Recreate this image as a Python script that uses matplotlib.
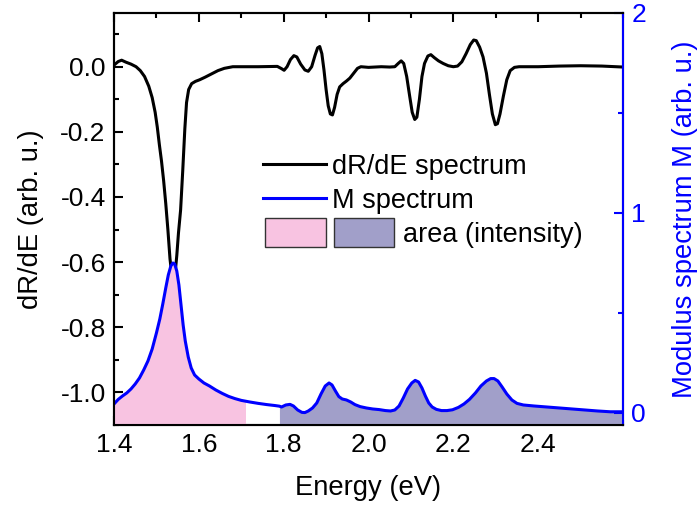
import matplotlib
matplotlib.use("Agg")
import matplotlib.pyplot as plt
from matplotlib.lines import Line2D
from matplotlib.patches import Rectangle
from matplotlib.ticker import MultipleLocator
import numpy as np

plt.rcParams["font.family"] = ["Liberation Sans", "DejaVu Sans"]

# ---- dR/dE spectrum ----
energy_r = [1.400, 1.410, 1.418, 1.428, 1.440, 1.452, 1.462, 1.472, 1.482, 1.490,
            1.497, 1.502, 1.507, 1.512, 1.517, 1.522, 1.527, 1.532, 1.536, 1.540,
            1.544, 1.548, 1.552, 1.557, 1.562, 1.567, 1.571, 1.576, 1.583, 1.592,
            1.602, 1.615, 1.630, 1.645, 1.660, 1.680, 1.700, 1.740, 1.785, 1.795,
            1.801, 1.808, 1.816, 1.824, 1.831, 1.840, 1.850, 1.858, 1.866, 1.874,
            1.880, 1.885, 1.890, 1.895, 1.900, 1.905, 1.910, 1.915, 1.920, 1.926,
            1.932, 1.940, 1.948, 1.956, 1.965, 1.974, 1.982, 2.000, 2.030, 2.050,
            2.062, 2.070, 2.077, 2.083, 2.090, 2.097, 2.103, 2.109, 2.114, 2.120,
            2.126, 2.132, 2.140, 2.147, 2.155, 2.165, 2.176, 2.188, 2.200, 2.210,
            2.220, 2.230, 2.240, 2.248, 2.254, 2.262, 2.270, 2.278, 2.285, 2.292,
            2.299, 2.304, 2.310, 2.318, 2.326, 2.334, 2.344, 2.355, 2.400, 2.450,
            2.500, 2.550, 2.600]
dR_dE = [0.005, 0.016, 0.020, 0.014, 0.008, 0.000, -0.012, -0.030, -0.060, -0.095,
         -0.140, -0.185, -0.240, -0.290, -0.350, -0.420, -0.500, -0.590, -0.635, -0.650,
         -0.635, -0.580, -0.510, -0.440, -0.320, -0.190, -0.110, -0.070, -0.052, -0.045,
         -0.040, -0.032, -0.022, -0.012, -0.005, 0.000, 0.000, 0.000, 0.001, -0.006,
         -0.011, 0.000, 0.022, 0.034, 0.030, 0.008, -0.010, -0.014, 0.000, 0.035,
         0.058, 0.062, 0.040, -0.010, -0.070, -0.120, -0.145, -0.148, -0.125, -0.085,
         -0.062, -0.052, -0.044, -0.035, -0.020, -0.005, 0.000, -0.002, 0.000, -0.001,
         0.000, 0.010, 0.018, 0.010, -0.030, -0.090, -0.140, -0.162, -0.155, -0.100,
         -0.030, 0.010, 0.033, 0.037, 0.028, 0.018, 0.010, 0.003, 0.000, 0.002,
         0.015, 0.040, 0.068, 0.082, 0.080, 0.060, 0.030, -0.020, -0.085, -0.145,
         -0.178, -0.175, -0.145, -0.090, -0.040, -0.012, -0.002, 0.000, 0.000, 0.002,
         0.003, 0.002, -0.001]

# ---- modulus spectrum M ----
energy_m = [1.400, 1.410, 1.420, 1.430, 1.440, 1.450, 1.460, 1.470, 1.480, 1.490,
            1.500, 1.508, 1.515, 1.522, 1.528, 1.534, 1.539, 1.543, 1.548, 1.553,
            1.558, 1.563, 1.568, 1.575, 1.582, 1.590, 1.600, 1.612, 1.625, 1.640,
            1.655, 1.670, 1.685, 1.700, 1.710, 1.720, 1.740, 1.760, 1.780, 1.790,
            1.795, 1.805, 1.815, 1.823, 1.833, 1.843, 1.850, 1.858, 1.868, 1.878,
            1.888, 1.898, 1.907, 1.914, 1.922, 1.930, 1.938, 1.948, 1.958, 1.968,
            1.980, 1.995, 2.010, 2.025, 2.040, 2.052, 2.062, 2.072, 2.082, 2.092,
            2.102, 2.110, 2.118, 2.126, 2.134, 2.142, 2.150, 2.160, 2.172, 2.185,
            2.198, 2.212, 2.225, 2.238, 2.252, 2.265, 2.278, 2.288, 2.296, 2.305,
            2.315, 2.326, 2.338, 2.350, 2.365, 2.390, 2.420, 2.450, 2.480, 2.510,
            2.540, 2.570, 2.600]
modulus = [0.045, 0.068, 0.085, 0.100, 0.120, 0.145, 0.175, 0.215, 0.260, 0.320,
           0.400, 0.470, 0.545, 0.625, 0.690, 0.735, 0.750, 0.745, 0.710, 0.640,
           0.540, 0.440, 0.360, 0.280, 0.225, 0.190, 0.170, 0.150, 0.135, 0.115,
           0.098, 0.083, 0.072, 0.063, 0.059, 0.055, 0.048, 0.042, 0.037, 0.034,
           0.030, 0.040, 0.043, 0.035, 0.015, 0.003, 0.002, 0.010, 0.025, 0.050,
           0.095, 0.135, 0.150, 0.140, 0.110, 0.082, 0.070, 0.065, 0.055, 0.042,
           0.032, 0.025, 0.020, 0.017, 0.012, 0.010, 0.015, 0.035, 0.075, 0.120,
           0.150, 0.163, 0.155, 0.125, 0.085, 0.050, 0.030, 0.018, 0.012, 0.012,
           0.016, 0.028, 0.045, 0.068, 0.100, 0.135, 0.160, 0.172, 0.172, 0.160,
           0.130, 0.095, 0.065, 0.048, 0.040, 0.035, 0.030, 0.025, 0.020, 0.015,
           0.010, 0.006, 0.006]

# integration windows for the shaded areas
pink_range = (1.40, 1.71)
purple_range = (1.79, 2.60)

BLUE = "#0000FF"
PINK = "#F8C3E1"
PURPLE = "#A19FC9"
LABEL_SIZE = 19.7
TICK_SIZE = 19
KEY_SIZE = 19.5

fig = plt.figure(figsize=(6.99, 5.15), dpi=100)
ax1 = fig.add_axes([0.1631, 0.1748, 0.7282, 0.8000])
ax2 = ax1.twinx()

ax1.plot(energy_r, dR_dE, color="black", lw=2.2, zorder=3)

em = np.array(energy_m)
mm = np.array(modulus)
m_bottom = -0.06
in_pink = (em >= pink_range[0]) & (em <= pink_range[1])
in_purple = (em >= purple_range[0]) & (em <= purple_range[1])
ax2.fill_between(em[in_pink], mm[in_pink], m_bottom, color=PINK, lw=0)
ax2.fill_between(em[in_purple], mm[in_purple], m_bottom, color=PURPLE, lw=0)
ax2.plot(em, mm, color=BLUE, lw=2.2)

ax1.set_xlim(1.4, 2.6)
ax1.set_ylim(-1.1, 0.165)
ax2.set_ylim(m_bottom, 2.0)

ax1.set_xticks([1.4, 1.6, 1.8, 2.0, 2.2, 2.4])
ax1.xaxis.set_minor_locator(MultipleLocator(0.1))
ax1.set_yticks([0.0, -0.2, -0.4, -0.6, -0.8, -1.0])
ax1.yaxis.set_minor_locator(MultipleLocator(0.1))
ax1.xaxis.set_major_formatter(plt.FormatStrFormatter("%.1f"))
ax1.yaxis.set_major_formatter(plt.FormatStrFormatter("%.1f"))
ax2.set_yticks([0, 1, 2])
ax2.yaxis.set_minor_locator(MultipleLocator(0.5))

ax1.tick_params(which="both", direction="in", top=True, right=False,
                width=1.5, labelsize=TICK_SIZE, pad=6)
ax1.tick_params(which="major", length=6.5)
ax1.tick_params(which="minor", length=3.5)
ax2.tick_params(which="both", direction="in", colors=BLUE, width=1.5,
                labelsize=TICK_SIZE, pad=6)
ax2.tick_params(which="major", length=6.5)
ax2.tick_params(which="minor", length=3.5)

for sp in ax1.spines.values():
    sp.set_linewidth(1.5)
for sp in ax2.spines.values():
    sp.set_linewidth(1.5)
ax2.spines["right"].set_color(BLUE)

ax1.set_xlabel("Energy (eV)", fontsize=LABEL_SIZE, labelpad=13)
ax1.set_ylabel("dR/dE (arb. u.)", fontsize=LABEL_SIZE, labelpad=12)
ax2.set_ylabel("Modulus spectrum M (arb. u.)", fontsize=LABEL_SIZE, color=BLUE,
               labelpad=19)

# key: two line samples plus the two shaded area swatches
key_tr = ax2.transAxes
ax2.add_line(Line2D([0.292, 0.4165], [0.6328, 0.6328], color="black", lw=2.2,
                    transform=key_tr))
ax2.text(0.4277, 0.609, "dR/dE spectrum", fontsize=KEY_SIZE, transform=key_tr,
         va="baseline")
ax2.add_line(Line2D([0.292, 0.4165], [0.5502, 0.5502], color=BLUE, lw=2.2,
                    transform=key_tr))
ax2.text(0.4277, 0.527, "M spectrum", fontsize=KEY_SIZE, transform=key_tr,
         va="baseline")
ax2.add_patch(Rectangle((0.2967, 0.4311), 0.1192, 0.0706, transform=key_tr,
                        facecolor=PINK, edgecolor="#333333", lw=1.0))
ax2.add_patch(Rectangle((0.4328, 0.4311), 0.1179, 0.0706, transform=key_tr,
                        facecolor=PURPLE, edgecolor="#333333", lw=1.0))
ax2.text(0.5678, 0.445, "area (intensity)", fontsize=KEY_SIZE, transform=key_tr,
         va="baseline")

fig.savefig("out.png", dpi=100)
